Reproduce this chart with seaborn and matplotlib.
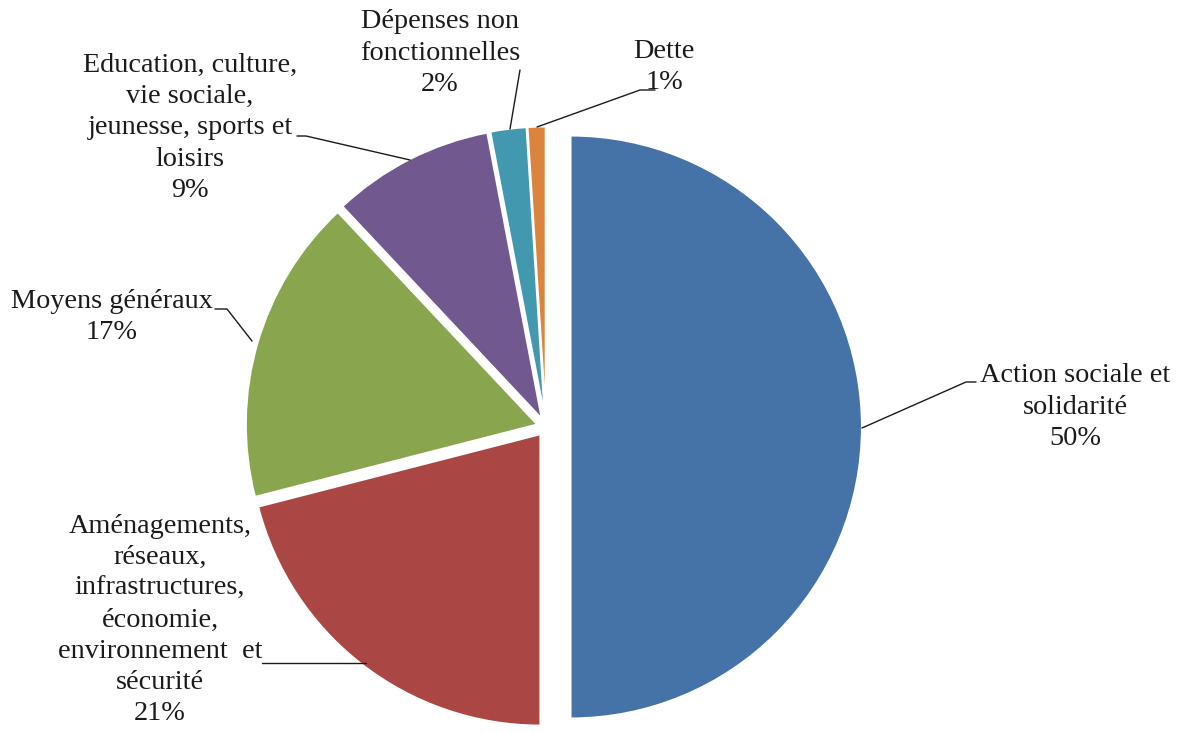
import matplotlib
matplotlib.use("Agg")
import matplotlib.pyplot as plt
import seaborn as sns

# data
categories = ["Action sociale et\nsolidarité",
              "Aménagements,\nréseaux,\ninfrastructures,\néconomie,\nenvironnement  et\nsécurité",
              "Moyens généraux",
              "Education, culture,\nvie sociale,\njeunesse, sports et\nloisirs",
              "Dépenses non\nfonctionnelles",
              "Dette"]
shares = [50, 21, 17, 9, 2, 1]
colors = ["#4572A7", "#AA4643", "#89A54E", "#71588F", "#4198AF", "#DB843D"]
explode = [0.084, 0.031, 0.031, 0.031, 0.031, 0.031]

# pixel geometry of the reference (center and radius of the pie)
W, H = 1181, 733
CX, CY, R = 546, 427, 291.5


def px(x, y):
    # convert reference pixel position to data coords (radius = 1)
    return (x - CX) / R, (CY - y) / R


sns.set_theme(style="white")
plt.rcParams['font.family'] = ['Liberation Serif', 'DejaVu Serif']

fig = plt.figure(figsize=(W / 100, H / 100), dpi=100)
ax = fig.add_axes([0, 0, 1, 1])
ax.pie(shares, colors=colors, explode=explode, startangle=90,
       counterclock=False, radius=1,
       wedgeprops={"edgecolor": "white", "linewidth": 1.5})
ax.set_xlim(-CX / R, (W - CX) / R)
ax.set_ylim((CY - H) / R, CY / R)
ax.set_aspect("equal")
ax.axis("off")

# label text centers (pixels) and leader lines (pixels)
label_pos = [(1075, 407), (160, 620), (112, 317), (190, 128), (440, 53), (664, 67)]
leaders = [
    [(862, 428), (966, 382), (976, 382)],
    [(262, 663), (366, 663)],
    [(215, 309), (227, 309), (252, 341)],
    [(297, 136), (306, 136), (410, 160)],
    [(520, 70), (510, 129)],
    [(655, 90), (640, 90), (537, 127)],
]

for name, val, (tx, ty) in zip(categories, shares, label_pos):
    x, y = px(tx, ty)
    ax.text(x, y, f"{name}\n{val}%", ha="center", va="center",
            fontsize=20.3, linespacing=1.33, color="#1a1a1a")

for pts in leaders:
    xs, ys = zip(*[px(a, b) for a, b in pts])
    ax.plot(xs, ys, color="#1a1a1a", lw=1.0)

fig.savefig("out.png", dpi=100, facecolor="white")
